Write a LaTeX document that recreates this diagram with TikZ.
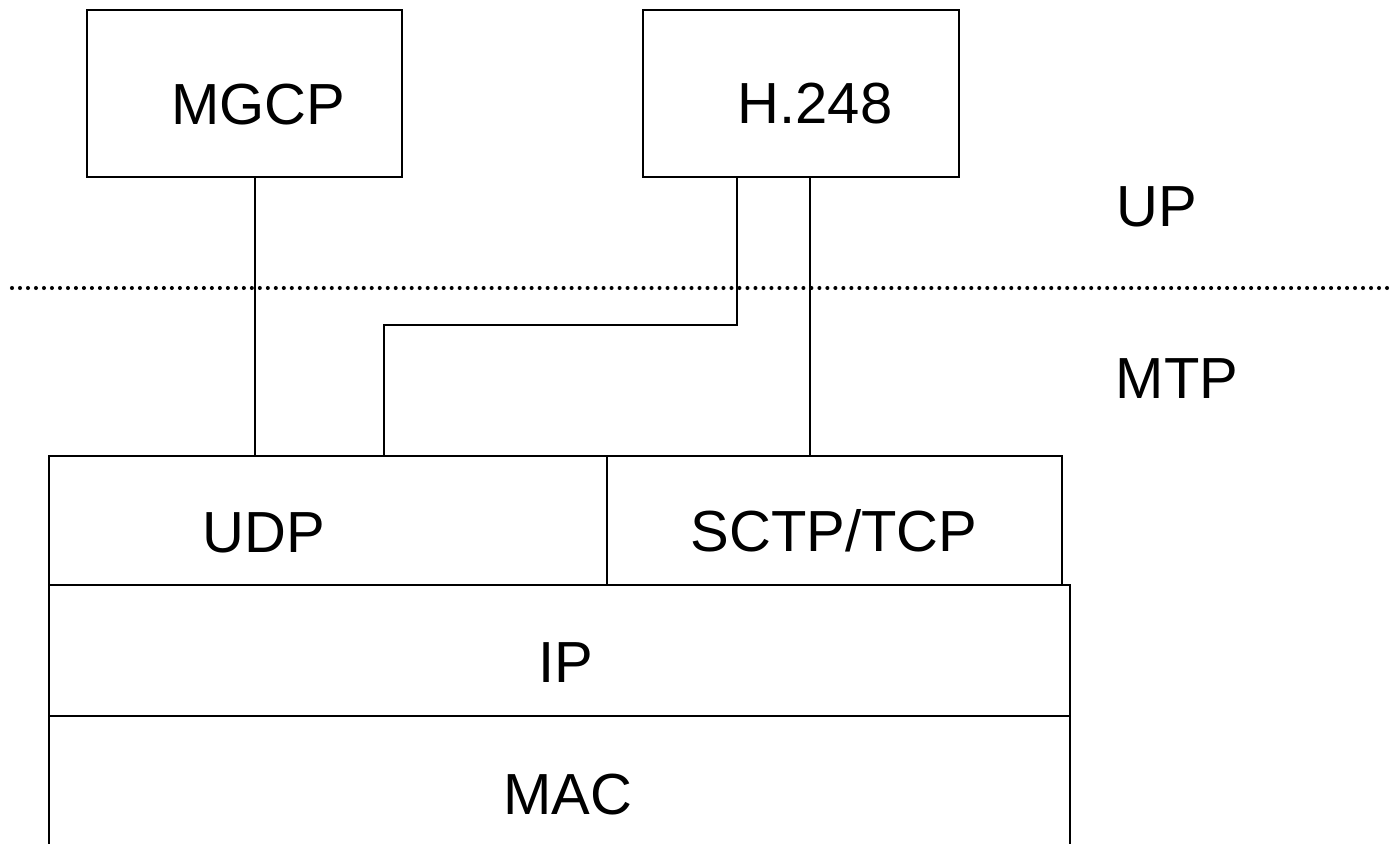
\documentclass[tikz,border=0pt]{standalone}
\usepackage{fontspec}
\setmainfont{Liberation Sans}

\tikzset{
  layer/.style={draw,line width=1.1pt,rectangle,inner sep=0pt,outer sep=0pt},
  lbl/.style={anchor=base,inner sep=0pt,font=\fontsize{33}{40}\selectfont},
  wire/.style={line width=1.1pt},
  planesep/.style={
    line width=2.3pt,
    line cap=round,
    dash pattern=on 0pt off 4.55pt
  },
}

\begin{document}
\begin{tikzpicture}[x=0.02cm,y=-0.02cm]

\clip (0,0) rectangle (1391,844);

\node[layer,minimum width=6.3cm,minimum height=3.34cm](mgcp) at (244.5,93.5) {};
\node[layer,minimum width=6.32cm,minimum height=3.34cm](h248) at (801,93.5) {};

\node[layer,minimum width=11.16cm,minimum height=2.58cm](udp) at (328,520.5) {};
\node[layer,minimum width=9.1cm,minimum height=2.58cm](sctp) at (834.5,520.5) {};
\node[layer,minimum width=20.42cm,minimum height=2.62cm](ip) at (559.5,650.5) {};
\node[layer,minimum width=20.42cm,minimum height=3.2cm](mac) at (559.5,796) {};

\node[lbl](mgcpText) at (258.5,124.5) {MGCP};
\node[lbl](h248Text) at (815,124) {H.248};
\node[lbl](udpText) at (264,552) {UDP};
\node[lbl](sctpText) at (834,551) {SCTP/TCP};
\node[lbl](ipText) at (566,682) {IP};
\node[lbl](macText) at (568,814) {MAC};

\node[lbl](upText) at (1157,227) {UP};
\node[lbl](mtpText) at (1177,398) {MTP};

\coordinate (tapM) at (255,0);
\coordinate (bend) at (737,325);
\coordinate (drop) at (384,325);
\coordinate (tapS) at (810,0);
\coordinate (sepL) at (12,288);
\coordinate (sepR) at (1391,288);

\draw[planesep] (sepL) -- (sepR);

\draw[wire] (mgcp.south -| tapM) -- (udp.north -| tapM);
\draw[wire] (h248.south -| bend) -- (bend) -- (drop) -- (udp.north -| drop);
\draw[wire] (h248.south -| tapS) -- (sctp.north -| tapS);

\end{tikzpicture}
\end{document}
